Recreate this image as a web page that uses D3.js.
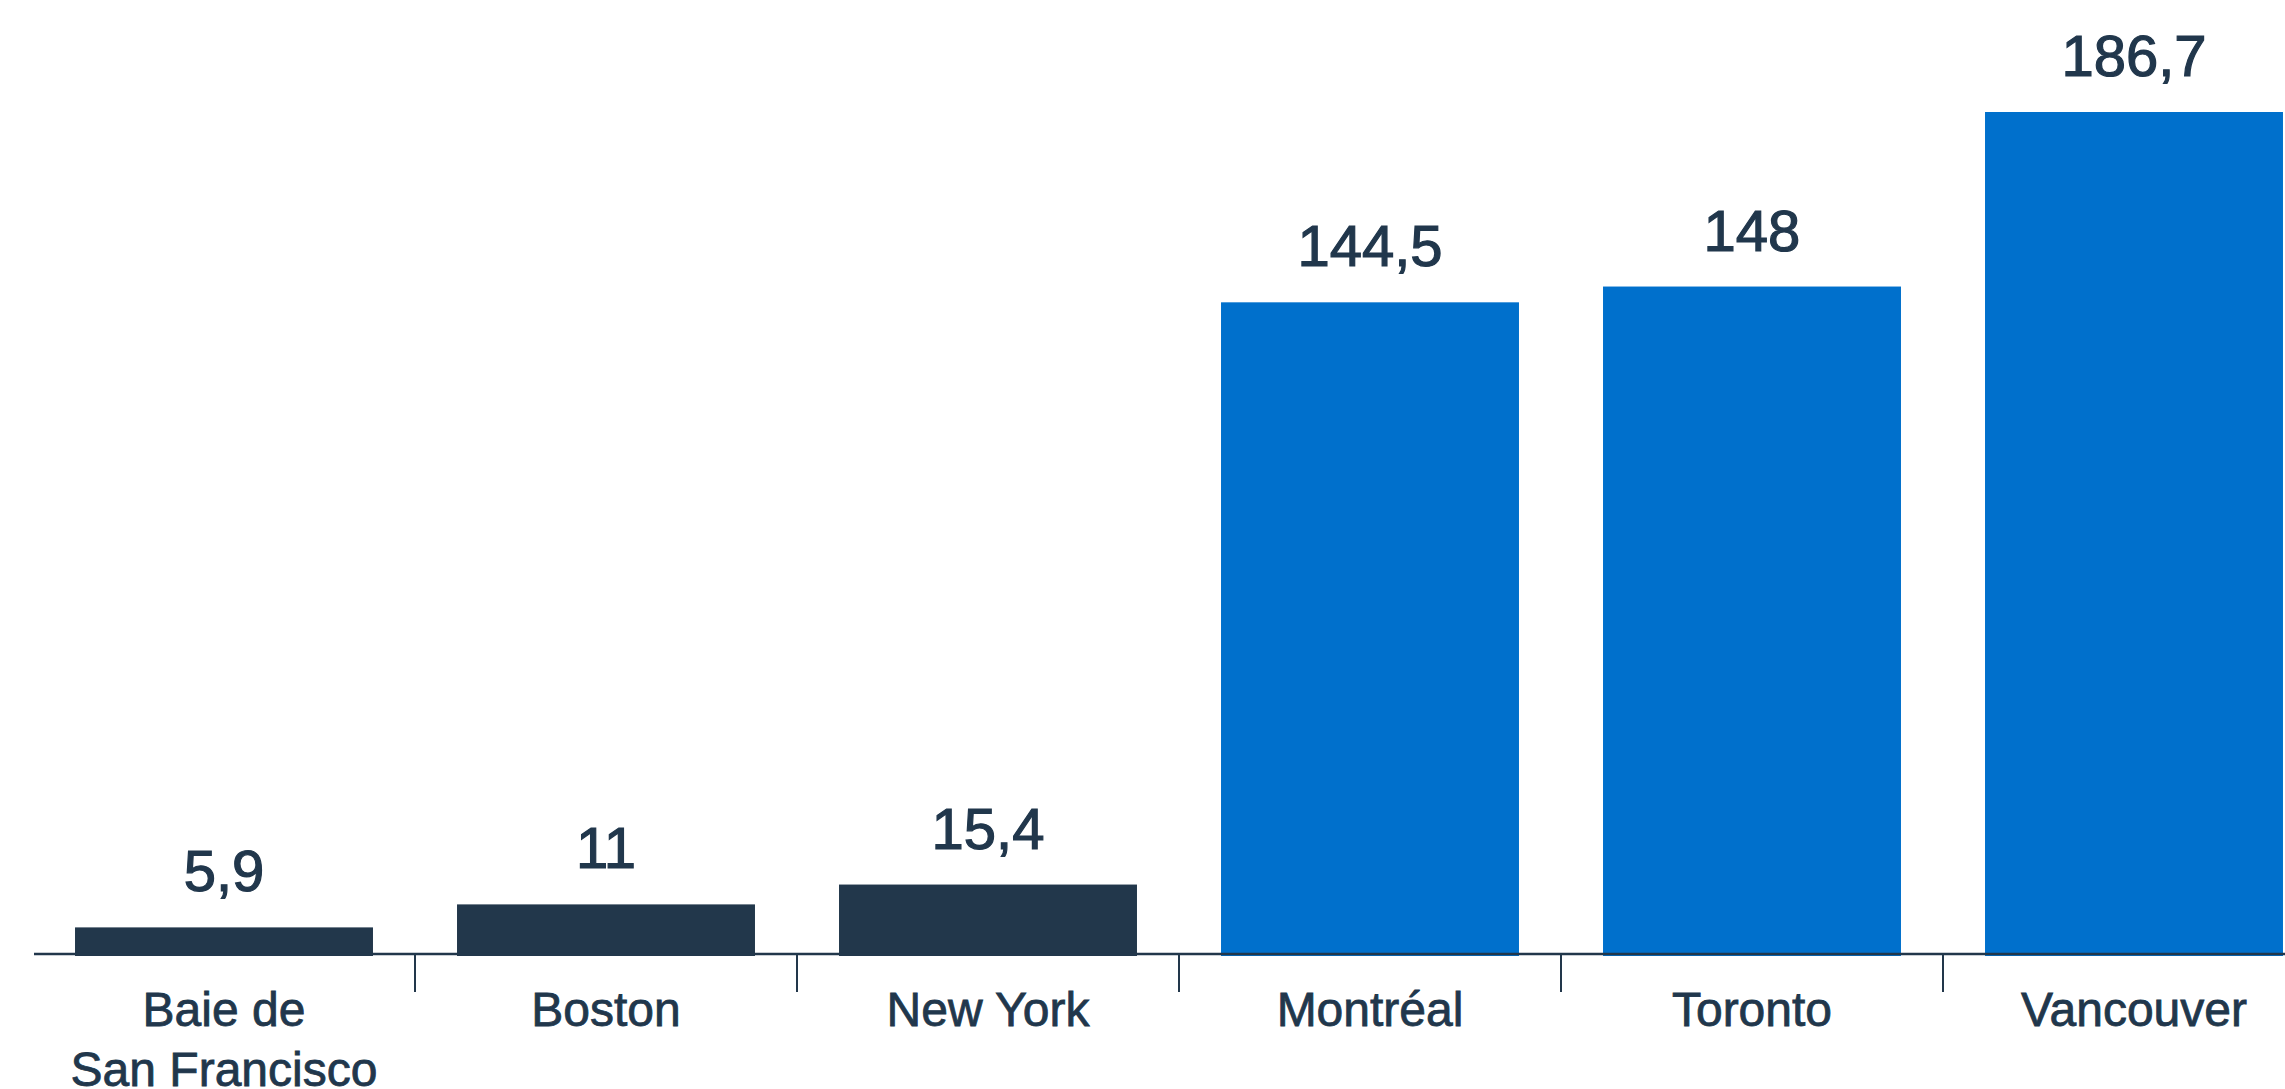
<!DOCTYPE html>
<html>
<head>
<meta charset="utf-8">
<script src="https://cdn.jsdelivr.net/npm/d3@7"></script>
<style>
  body { margin: 0; background: #fff; }
  svg { display: block; }
  text { font-family: "Liberation Sans", Arial, sans-serif; fill: #21374c; stroke: #21374c; }
</style>
</head>
<body>
<svg id="chart" width="2285" height="1089"></svg>
<script>
// Données
const villes = ["Baie de\nSan Francisco", "Boston", "New York", "Montréal", "Toronto", "Vancouver"];
const valeurs = [5.9, 11, 15.4, 144.5, 148, 186.7];
const etiquettes = ["5,9", "11", "15,4", "144,5", "148", "186,7"];
const pays = ["US", "US", "US", "CA", "CA", "CA"];

const width = 2285, height = 1089;
const baseY = 954;

const svg = d3.select("#chart");

const couleur = d3.scaleOrdinal()
    .domain(["US", "CA"])
    .range(["#22374b", "#0070cc"]);

// Échelles
const x = d3.scaleBand()
    .domain(villes)
    .range([33, 2325])
    .paddingInner(0.22)
    .paddingOuter(0.11);

const y = d3.scaleLinear()
    .domain([0, 186.7])
    .range([baseY, 112]);

const donnees = villes.map((v, i) => ({ ville: v, valeur: valeurs[i], label: etiquettes[i], pays: pays[i] }));

// Barres
svg.append("g")
    .selectAll("rect")
    .data(donnees)
    .join("rect")
    .attr("x", d => x(d.ville))
    .attr("y", d => y(d.valeur))
    .attr("width", x.bandwidth())
    .attr("height", d => baseY - y(d.valeur) + 2)
    .attr("fill", d => couleur(d.pays));

// Axe horizontal
svg.append("line")
    .attr("x1", 34).attr("x2", width)
    .attr("y1", baseY).attr("y2", baseY)
    .attr("stroke", "#22374b")
    .attr("stroke-width", 2.5);

// Graduations entre les catégories
const demiPas = (x.step() - x.bandwidth()) / 2;
svg.append("g")
    .selectAll("line")
    .data(donnees.slice(0, -1))
    .join("line")
    .attr("x1", d => x(d.ville) + x.bandwidth() + demiPas)
    .attr("x2", d => x(d.ville) + x.bandwidth() + demiPas)
    .attr("y1", baseY)
    .attr("y2", baseY + 38)
    .attr("stroke", "#22374b")
    .attr("stroke-width", 2);

// Valeurs au-dessus des barres
svg.append("g")
    .selectAll("text")
    .data(donnees)
    .join("text")
    .attr("x", d => x(d.ville) + x.bandwidth() / 2)
    .attr("y", d => y(d.valeur) - 36)
    .attr("text-anchor", "middle")
    .style("font-size", "58px")
    .style("stroke-width", "1.2px")
    .text(d => d.label);

// Libellés des villes
const libelles = svg.append("g")
    .selectAll("text")
    .data(donnees)
    .join("text")
    .attr("x", d => x(d.ville) + x.bandwidth() / 2)
    .attr("y", 1026)
    .attr("text-anchor", "middle")
    .style("font-size", "48px")
    .style("stroke-width", "0.8px");

libelles.selectAll("tspan")
    .data(d => d.ville.split("\n").map(l => ({ l, cx: x(d.ville) + x.bandwidth() / 2 })))
    .join("tspan")
    .attr("x", t => t.cx)
    .attr("dy", (t, i) => i === 0 ? 0 : 60)
    .text(t => t.l);
</script>
</body>
</html>
